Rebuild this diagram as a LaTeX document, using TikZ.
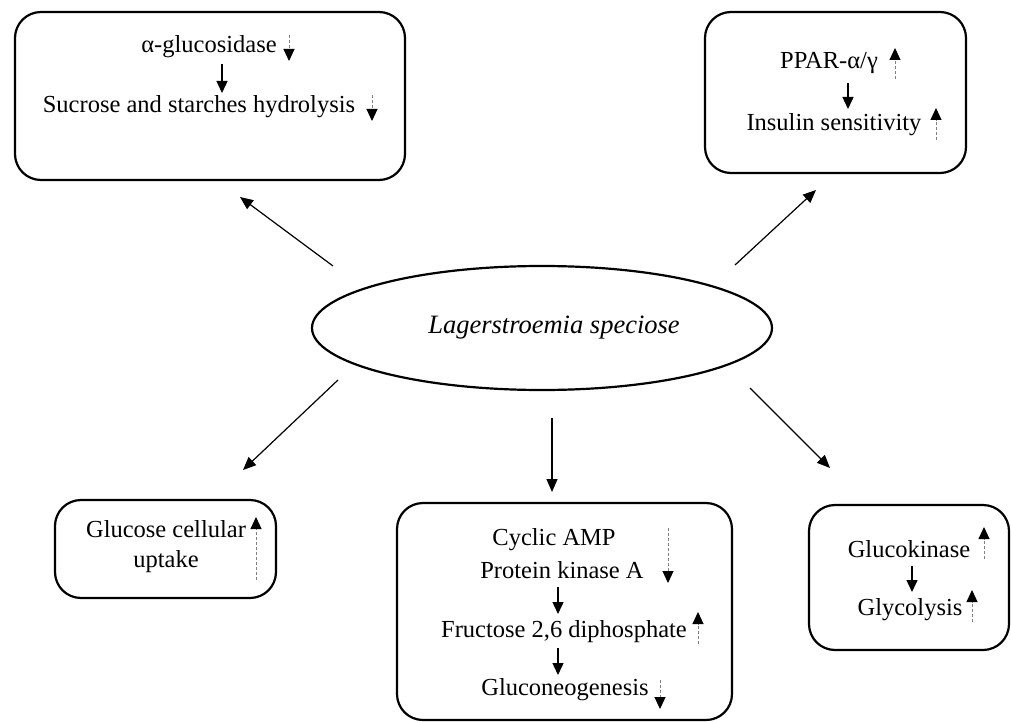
\documentclass[tikz,border=0pt]{standalone}
\usepackage{fontspec}
\setmainfont{Liberation Serif}
\usetikzlibrary{arrows.meta,shapes.geometric}
\begin{document}
\begin{tikzpicture}[x=1pt,y=-1pt,
  box/.style={draw,line width=2.2pt,rounded corners=26pt},
  lbl/.style={font=\fontsize{24.5}{28}\selectfont,inner sep=0pt},
  link/.style={line width=1.2pt,-{Triangle[length=13pt,width=11pt]}},
  flow/.style={line width=1.4pt,-{Triangle[length=12pt,width=11pt]}},
  trend/.style={draw=gray,dash pattern=on 3pt off 2pt,line width=1pt,
    -{Triangle[length=12pt,width=11pt,color=black]}}]
\useasboundingbox (0,0) rectangle (1011,722);

% outer boxes
\draw[box] (15,12) rectangle (405,180);
\draw[box] (705,12) rectangle (966,173);
\draw[box] (55,500) rectangle (276,598);
\draw[box] (397,503) rectangle (732,720);
\draw[box] (809,505) rectangle (1009,650);

% central plant
\node[draw,line width=2.2pt,ellipse,minimum width=460pt,minimum height=124pt]
  (plant) at (542,328) {};
\node[lbl,font=\fontsize{26.5}{30}\selectfont\itshape] (name) at (554,328)
  {Lagerstroemia speciose};

% effect targets
\coordinate (tl) at (240,197);
\coordinate (tr) at (816,190);
\coordinate (bl) at (243,470);
\coordinate (bc) at (552,492);
\coordinate (br) at (830,468);
\coordinate (stl) at (333,266);
\coordinate (str) at (735,265);
\coordinate (sbl) at (338,380);
\coordinate (sbc) at (552,418);
\coordinate (sbr) at (750,388);
\draw[link] (stl) -- (tl);
\draw[link] (str) -- (tr);
\draw[link] (sbl) -- (bl);
\draw[link] (sbc) -- (bc);
\draw[link] (sbr) -- (br);

% alpha-glucosidase pathway
\node[lbl] (agl) at (209,47) {α-glucosidase};
\node[lbl] (hyd) at (199,107) {Sucrose and starches hydrolysis};
\draw[flow] (222,64) -- (222,93);
\draw[trend] (289,35) -- (289,61);
\draw[trend] (372,95) -- (372,121);

% PPAR pathway
\node[lbl] (ppar) at (829,63) {PPAR-α/γ};
\node[lbl] (ins) at (834,125) {Insulin sensitivity};
\draw[flow] (848,83) -- (848,109);
\draw[trend] (895,79) -- (895,48);
\draw[trend] (936,140) -- (936,108);

% glucose uptake
\node[lbl,align=center] (upt) at (166,547) {Glucose cellular\\[2pt]uptake};
\draw[trend] (256,580) -- (256,517);

% gluconeogenesis pathway
\node[lbl] (camp) at (554,540) {Cyclic AMP};
\node[lbl] (pka) at (562,570) {Protein kinase A};
\node[lbl] (f26) at (564,632) {Fructose 2,6 diphosphate};
\node[lbl] (gng) at (565,690) {Gluconeogenesis};
\draw[flow] (558,587) -- (558,614);
\draw[flow] (558,648) -- (558,675);
\draw[trend] (668,528) -- (668,583);
\draw[trend] (698,644) -- (698,612);
\draw[trend] (660,680) -- (660,709);

% glycolysis pathway
\node[lbl] (gk) at (909,549) {Glucokinase};
\node[lbl] (gly) at (910,610) {Glycolysis};
\draw[flow] (912,566) -- (912,592);
\draw[trend] (984,559) -- (984,527);
\draw[trend] (972,622) -- (972,590);
\end{tikzpicture}
\end{document}
